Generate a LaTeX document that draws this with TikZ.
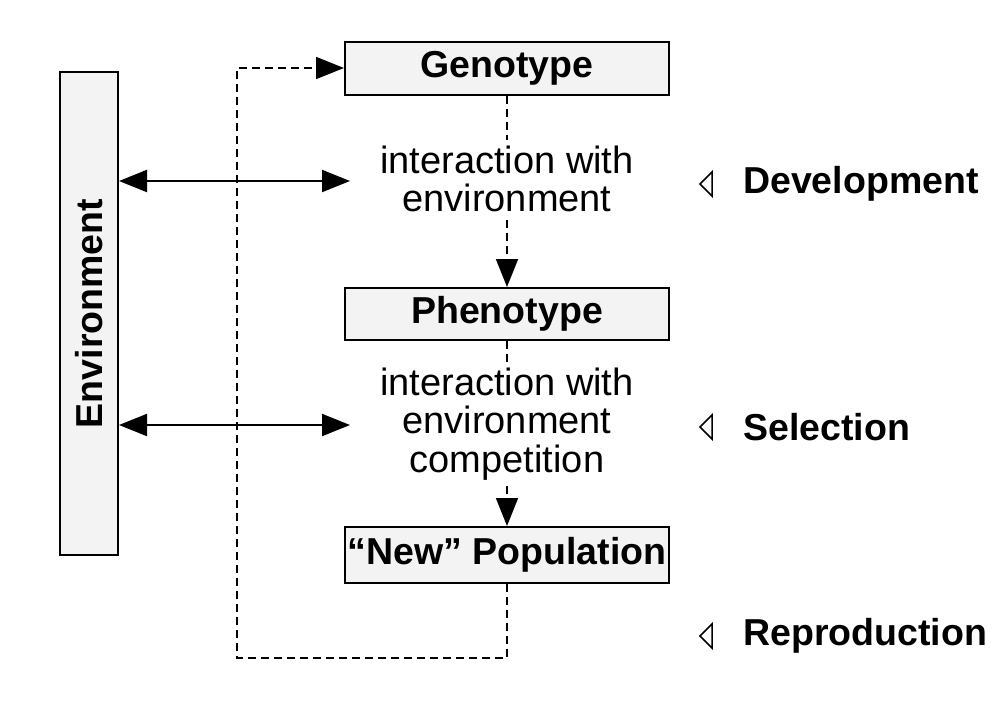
\documentclass[tikz,border=0pt]{standalone}
\usepackage{fontspec}
\setmainfont{Liberation Sans}
\usetikzlibrary{arrows.meta}
\definecolor{boxfill}{HTML}{F3F3F3}
\begin{document}
\begin{tikzpicture}[x=1pt,y=-1pt,
  stage/.style={draw=black,line width=2pt,fill=boxfill,inner sep=0pt,
    font=\fontsize{37.5}{39}\selectfont\bfseries},
  note/.style={inner sep=0pt,align=center,font=\fontsize{38}{38.5}\selectfont},
  phase/.style={inner sep=0pt,anchor=west,font=\fontsize{37.5}{39}\selectfont\bfseries},
  flow/.style={line width=1.6pt,dash pattern=on 8pt off 5pt},
  head/.style={-{Triangle[length=28pt,width=22pt]}},
  twohead/.style={line width=2pt,{Triangle[length=28pt,width=22pt]}-{Triangle[length=28pt,width=22pt]}},
  marker/.style={line width=1.5pt,line join=miter}]
\useasboundingbox (0,0) rectangle (1006,702);

% boxes
\node[stage,minimum width=58pt,minimum height=483pt] (env) at (89,313.5)
  {\rotatebox{90}{Environment}};
\node[stage,minimum width=324pt,minimum height=53pt] (geno) at (507,68.5) {\raisebox{-2pt}{Genotype}};
\node[stage,minimum width=324pt,minimum height=52pt] (pheno) at (507,314) {\raisebox{-2pt}{Phenotype}};
\node[stage,minimum width=324pt,minimum height=56pt] (newpop) at (507,555) {“New” Population};

% interaction texts
\node[note] (devtxt) at (507,179) {interaction with\\environment};
\node[note] (seltxt) at (507,424) {interaction with\\environment\\competition};

% flow between stages
\draw[flow] (geno.south) -- ([yshift=6pt]devtxt.north);
\draw[flow,head] ([yshift=-8pt]devtxt.south) -- (pheno.north);
\draw[flow] (pheno.south) -- ([yshift=6pt]seltxt.north);
\draw[flow,head] ([yshift=-6pt]seltxt.south) -- (newpop.north);

% feedback loop
\coordinate (loopA) at (507,658);
\coordinate (loopB) at (237,658);
\coordinate (loopC) at (237,68);
\draw[flow,head] (newpop.south) -- (loopA) -- (loopB) -- (loopC) -- (geno.west |- loopC);

% environment interactions
\coordinate (devend) at (350,181);
\coordinate (selend) at (350,425);
\draw[twohead] (env.east |- devend) -- (devend);
\draw[twohead] (env.east |- selend) -- (selend);

% phase labels
\node[phase] (dev) at (743,184) {Development};
\node[phase] (sel) at (743,427) {Selection};
\node[phase] (rep) at (743,636) {Reproduction};
\foreach \n in {dev,sel,rep}{
  \draw[marker] ([xshift=-31pt,yshift=-12pt]\n.west) -- ([xshift=-43pt]\n.west)
    -- ([xshift=-31pt,yshift=12pt]\n.west) -- cycle;
}
\end{tikzpicture}
\end{document}
